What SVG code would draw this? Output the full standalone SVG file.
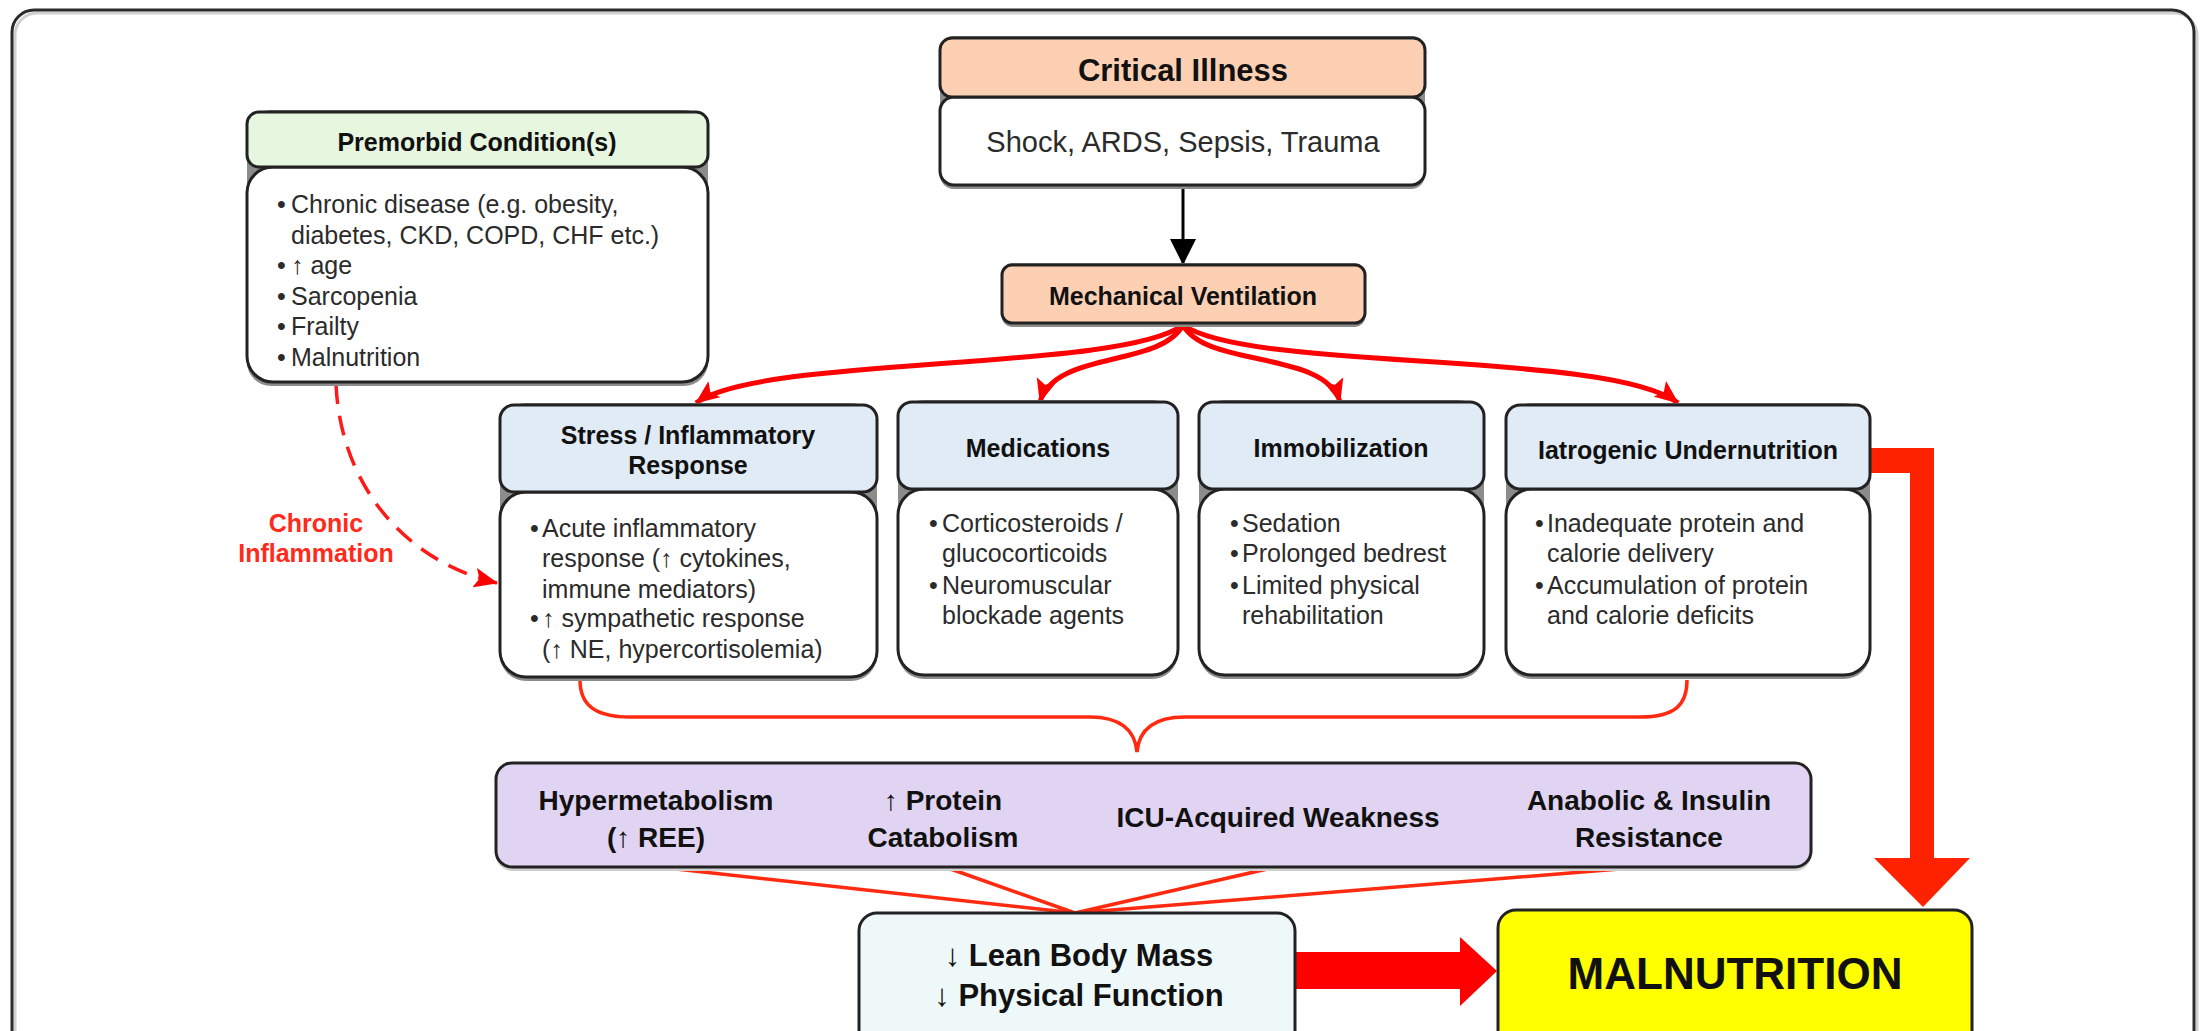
<svg xmlns="http://www.w3.org/2000/svg" width="2208" height="1031" viewBox="0 0 2208 1031">
<style>
.t{font-family:"Liberation Sans",Arial,Helvetica,sans-serif;fill:#2b2b2b}
.b{font-weight:bold;fill:#111}
.c{text-anchor:middle}
.s{font-size:25px}
.box{stroke:#222;stroke-width:3}
.sh{fill:#8c8c8c}
.peach{fill:#fdd0b4}
.green{fill:#e6f6df}
.blue{fill:#e0ebf6}
.white{fill:#ffffff}
.red{fill:none;stroke:#ff0000;stroke-width:5}
.thin{fill:none;stroke:#ff2a10;stroke-width:3.5}
</style>
<defs>
<marker id="ar" viewBox="0 0 24 20" refX="23" refY="10" markerWidth="24" markerHeight="20" markerUnits="userSpaceOnUse" orient="auto">
<path d="M0,0 L24,10 L0,20 L5,10 Z" fill="#ff0000"/>
</marker>
<marker id="ak" viewBox="0 0 26 26" refX="25" refY="13" markerWidth="26" markerHeight="26" markerUnits="userSpaceOnUse" orient="auto">
<path d="M0,0 L26,13 L0,26 Z" fill="#000"/>
</marker>
</defs>
<rect width="2208" height="1031" fill="#fff"/>
<rect x="15" y="13" width="2182" height="1060" rx="22" fill="none" stroke="#d0d0d0" stroke-width="3"/>
<rect x="12" y="10" width="2182" height="1060" rx="22" fill="none" stroke="#2a2a2a" stroke-width="3"/>

<g id="connectors">
<line x1="1183" y1="185" x2="1183" y2="264" stroke="#000" stroke-width="3" marker-end="url(#ak)"/>
<path class="red" d="M1183,325 C1120,372 760,355 696,403" marker-end="url(#ar)"/>
<path class="red" d="M1183,325 C1160,368 1055,350 1040,402" marker-end="url(#ar)"/>
<path class="red" d="M1183,325 C1206,368 1325,350 1340,402" marker-end="url(#ar)"/>
<path class="red" d="M1183,325 C1250,372 1610,350 1678,403" marker-end="url(#ar)"/>
<path d="M336,384 C340,480 400,560 497,583" fill="none" stroke="#ff1a1a" stroke-width="3.5" stroke-dasharray="20 12" marker-end="url(#ar)"/>
<text class="t b c s" x="316" y="532" style="fill:#ff2a1a">Chronic</text>
<text class="t b c s" x="316" y="562" style="fill:#ff2a1a">Inflammation</text>
<path class="thin" d="M580,680 C580,705 595,717 630,717 L1090,717 C1120,717 1135,730 1137,752 C1139,730 1154,717 1185,717 L1640,717 C1675,717 1687,705 1687,680"/>
<path class="thin" d="M658,867 L1075,913 M945,867 L1075,913 M1276,867 L1075,913 M1644,867 L1075,913"/>
<path d="M1870,448 L1934,448 L1934,858 L1970,858 L1923,907 L1874,858 L1910,858 L1910,473 L1870,473 Z" fill="#ff2200"/>
<path d="M1296,952 L1460,952 L1460,937 L1497,971 L1460,1006 L1460,989 L1296,989 Z" fill="#ff0000"/>
</g>

<g id="critical-illness">
<rect class="sh" x="940" y="36" width="485" height="153" rx="14"/>
<rect class="box white" x="940" y="97" width="485" height="88" rx="14"/>
<rect class="box peach" x="940" y="38" width="485" height="59" rx="12"/>
<text class="t b c" x="1183" y="81" font-size="31">Critical Illness</text>
<text class="t c" x="1183" y="152" font-size="29">Shock, ARDS, Sepsis, Trauma</text>
</g>

<g id="mechanical-ventilation">
<rect class="sh" x="1002" y="263" width="363" height="64" rx="10"/>
<rect class="box peach" x="1002" y="265" width="363" height="58" rx="10"/>
<text class="t b c s" x="1183" y="305">Mechanical Ventilation</text>
</g>

<g id="premorbid">
<rect class="sh" x="247" y="110" width="461" height="276" rx="24"/>
<rect class="box white" x="247" y="167" width="461" height="215" rx="26"/>
<rect class="box green" x="247" y="112" width="461" height="55" rx="12"/>
<text class="t b c" x="477" y="151" font-size="25">Premorbid Condition(s)</text>
<text class="t s"><tspan x="277" y="213">•</tspan><tspan x="291">Chronic disease (e.g. obesity,</tspan></text>
<text class="t s" x="291" y="244">diabetes, CKD, COPD, CHF etc.)</text>
<text class="t s"><tspan x="277" y="274">•</tspan><tspan x="291">↑ age</tspan></text>
<text class="t s"><tspan x="277" y="305">•</tspan><tspan x="291">Sarcopenia</tspan></text>
<text class="t s"><tspan x="277" y="335">•</tspan><tspan x="291">Frailty</tspan></text>
<text class="t s"><tspan x="277" y="366">•</tspan><tspan x="291">Malnutrition</tspan></text>
</g>

<g id="stress">
<rect class="sh" x="500" y="403" width="377" height="278" rx="26"/>
<rect class="box white" x="500" y="492" width="377" height="185" rx="26"/>
<rect class="box blue" x="500" y="405" width="377" height="87" rx="14"/>
<text class="t b c s" x="688" y="444">Stress / Inflammatory</text>
<text class="t b c s" x="688" y="474">Response</text>
<text class="t s"><tspan x="530" y="537">•</tspan><tspan x="542">Acute inflammatory</tspan></text>
<text class="t s" x="542" y="567">response (↑ cytokines,</text>
<text class="t s" x="542" y="598">immune mediators)</text>
<text class="t s"><tspan x="530" y="627">•</tspan><tspan x="542">↑ sympathetic response</tspan></text>
<text class="t s" x="542" y="658">(↑ NE, hypercortisolemia)</text>
</g>

<g id="medications">
<rect class="sh" x="898" y="400" width="280" height="279" rx="26"/>
<rect class="box white" x="898" y="489" width="280" height="186" rx="26"/>
<rect class="box blue" x="898" y="402" width="280" height="87" rx="14"/>
<text class="t b c s" x="1038" y="457">Medications</text>
<text class="t s"><tspan x="929" y="532">•</tspan><tspan x="942">Corticosteroids /</tspan></text>
<text class="t s" x="942" y="562">glucocorticoids</text>
<text class="t s"><tspan x="929" y="594">•</tspan><tspan x="942">Neuromuscular</tspan></text>
<text class="t s" x="942" y="624">blockade agents</text>
</g>

<g id="immobilization">
<rect class="sh" x="1199" y="400" width="285" height="279" rx="26"/>
<rect class="box white" x="1199" y="489" width="285" height="186" rx="26"/>
<rect class="box blue" x="1199" y="402" width="285" height="87" rx="14"/>
<text class="t b c s" x="1341" y="457">Immobilization</text>
<text class="t s"><tspan x="1230" y="532">•</tspan><tspan x="1242">Sedation</tspan></text>
<text class="t s"><tspan x="1230" y="562">•</tspan><tspan x="1242">Prolonged bedrest</tspan></text>
<text class="t s"><tspan x="1230" y="594">•</tspan><tspan x="1242">Limited physical</tspan></text>
<text class="t s" x="1242" y="624">rehabilitation</text>
</g>

<g id="iatrogenic">
<rect class="sh" x="1506" y="403" width="364" height="276" rx="26"/>
<rect class="box white" x="1506" y="489" width="364" height="186" rx="26"/>
<rect class="box blue" x="1506" y="405" width="364" height="84" rx="14"/>
<text class="t b c s" x="1688" y="459">Iatrogenic Undernutrition</text>
<text class="t s"><tspan x="1535" y="532">•</tspan><tspan x="1547">Inadequate protein and</tspan></text>
<text class="t s" x="1547" y="562">calorie delivery</text>
<text class="t s"><tspan x="1535" y="594">•</tspan><tspan x="1547">Accumulation of protein</tspan></text>
<text class="t s" x="1547" y="624">and calorie deficits</text>
</g>

<g id="effects">
<rect x="496" y="766" width="1315" height="105" rx="16" fill="#cfcfcf"/>
<rect class="box" x="496" y="763" width="1315" height="104" rx="16" fill="#e0d4f2"/>
<text class="t b c" x="656" y="810" font-size="28">Hypermetabolism</text>
<text class="t b c" x="656" y="847" font-size="28">(↑ REE)</text>
<text class="t b c" x="943" y="810" font-size="28">↑ Protein</text>
<text class="t b c" x="943" y="847" font-size="28">Catabolism</text>
<text class="t b c" x="1278" y="827" font-size="28">ICU-Acquired Weakness</text>
<text class="t b c" x="1649" y="810" font-size="28">Anabolic &amp; Insulin</text>
<text class="t b c" x="1649" y="847" font-size="28">Resistance</text>
</g>

<g id="lean-body-mass">
<rect class="box" x="859" y="913" width="436" height="140" rx="18" fill="#eff8f8"/>
<text class="t b c" x="1079" y="966" font-size="31">↓ Lean Body Mass</text>
<text class="t b c" x="1079" y="1006" font-size="31">↓ Physical Function</text>
</g>

<g id="malnutrition">
<rect class="box" x="1498" y="910" width="474" height="140" rx="18" fill="#ffff00"/>
<text class="t b c" x="1735" y="989" font-size="44">MALNUTRITION</text>
</g>
</svg>
